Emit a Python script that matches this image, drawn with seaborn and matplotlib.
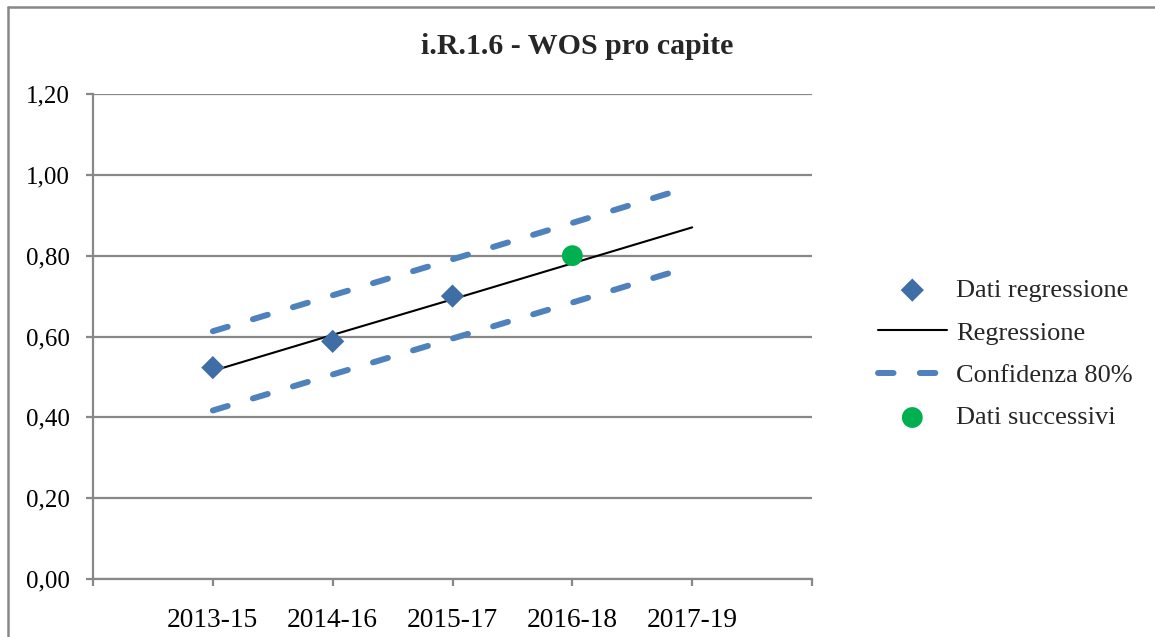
import numpy as np
import pandas as pd
import matplotlib
matplotlib.use("Agg")
import matplotlib.pyplot as plt
from matplotlib.lines import Line2D
from matplotlib.ticker import FuncFormatter
import seaborn as sns

# data
categories = ["2013-15", "2014-16", "2015-17", "2016-18", "2017-19"]
dati_regressione = [0.523, 0.588, 0.700]
regressione = [0.515, 0.604, 0.692, 0.781, 0.870]
conf_sup = [0.613, 0.702, 0.791, 0.881, 0.972]
conf_inf = [0.417, 0.506, 0.595, 0.684, 0.774]
dati_successivi = [0.80]
succ_categories = ["2016-18"]
yticks = [0.0, 0.2, 0.4, 0.6, 0.8, 1.0, 1.2]

pos = {c: i for i, c in enumerate(categories)}
x_all = [pos[c] for c in categories]
x_reg = x_all[:len(dati_regressione)]
x_succ = [pos[c] for c in succ_categories]

sns.set_theme(style="white")
plt.rcParams["font.family"] = ["Liberation Serif", "DejaVu Serif"]

gray = "#888888"
blue_pts = "#3F6EA6"
blue_dash = "#4F81BD"
green = "#00B050"

fig = plt.figure(figsize=(11.55, 6.37), dpi=100)
ax = fig.add_axes([93 / 1155, 1 - 579 / 637, (812 - 93) / 1155, (579 - 94) / 637])

sns.scatterplot(x=x_reg, y=dati_regressione, marker="D", s=140, color=blue_pts,
                edgecolor="none", label="Dati regressione", ax=ax, zorder=5)
sns.lineplot(x=x_all, y=regressione, color="black", linewidth=1.5,
             label="Regressione", ax=ax, zorder=4)
sns.lineplot(x=x_all, y=conf_sup, color=blue_dash, linewidth=4.3,
             linestyle=(0, (2.6, 4.4)), dash_capstyle="round",
             label="Confidenza 80%", ax=ax, zorder=3)
sns.lineplot(x=x_all, y=conf_inf, color=blue_dash, linewidth=4.3,
             linestyle=(0, (2.6, 4.4)), dash_capstyle="round",
             label="_nolegend_", ax=ax, zorder=3)
sns.scatterplot(x=x_succ, y=dati_successivi, marker="o", s=225, color=green,
                edgecolor="none", label="Dati successivi", ax=ax, zorder=6)

ax.set_xlim(-1, len(categories))
ax.set_ylim(0, 1.2)
ax.set_xticks(range(-1, len(categories) + 1))
ax.set_xticklabels([""] + categories + [""])
ax.set_yticks(yticks)
ax.yaxis.set_major_formatter(FuncFormatter(lambda v, p: f"{v:.2f}".replace(".", ",")))
ax.grid(axis="y", color=gray, linewidth=1.6)
ax.set_axisbelow(True)
for s in ["top", "right"]:
    ax.spines[s].set_visible(False)
for s in ["left", "bottom"]:
    ax.spines[s].set_color(gray)
    ax.spines[s].set_linewidth(1.6)
ax.tick_params(axis="both", direction="out", length=5, width=1.6, color=gray,
               labelcolor="black")
ax.tick_params(axis="y", pad=12, left=True, labelsize=18)
ax.tick_params(axis="x", pad=16, bottom=True, labelsize=19.7)
ax.set_xlabel("")
ax.set_ylabel("")

fig.text(0.5, 1 - 47 / 637, "i.R.1.6 - WOS pro capite", ha="center", va="center",
         fontsize=21.5, fontweight="bold")

handles, labels = ax.get_legend_handles_labels()
order = ["Dati regressione", "Regressione", "Confidenza 80%", "Dati successivi"]
hmap = dict(zip(labels, handles))
ax.legend([hmap[l] for l in order], order, loc="center left",
          bbox_to_anchor=(878 / 1155, 1 - 354 / 637), bbox_transform=fig.transFigure,
          frameon=False, fontsize=19, handlelength=2.6, handletextpad=0.35,
          labelspacing=0.72, borderpad=0, borderaxespad=0)

# outer chart frame (left and top edges visible)
fig.add_artist(Line2D([8 / 1155, 8 / 1155], [0, 1 - 7 / 637], color=gray, linewidth=1.8))
fig.add_artist(Line2D([8 / 1155, 1], [1 - 7 / 637, 1 - 7 / 637], color=gray, linewidth=1.8))

fig.savefig("out.png", dpi=100)
